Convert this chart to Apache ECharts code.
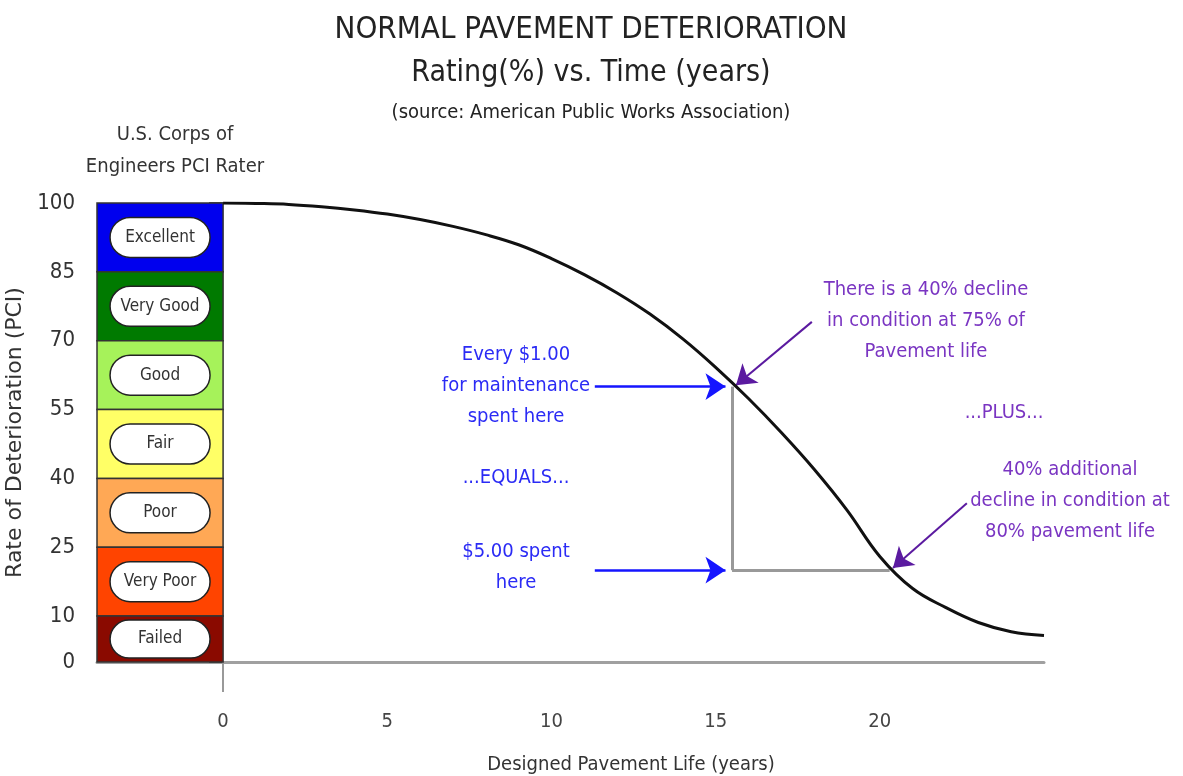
<!DOCTYPE html>
<html>
<head>
<meta charset="utf-8">
<script src="https://cdn.jsdelivr.net/npm/echarts@6/dist/echarts.min.js"></script>
<style>
html,body{margin:0;padding:0;background:#fff;}
#c{width:1183px;height:776px;}
</style>
</head>
<body>
<div id="c"></div>
<script>
// ---- data ----
const years = [0,1,2,3,4,5,6,7,8,9,10,11,12,13,14,15,16,17,18,19,20,21,22,23,24,25];
const pci   = [100,99.9,99.7,99.2,98.5,97.6,96.4,94.9,93.1,90.9,87.9,84.4,80.4,75.8,70.4,64.2,57.4,50.0,42.0,33.1,23.0,16.0,11.9,8.6,6.6,5.8];
const bandNames = ['Excellent','Very Good','Good','Fair','Poor','Very Poor','Failed'];
const bandLow   = [85,70,55,40,25,10,0];
const bandHigh  = [100,85,70,55,40,25,10];
const bandColors = ['#0000ee','#007a00','#a6f25a','#ffff66','#ffa855','#ff4400','#8a0a00'];
const yTicks = [0,10,25,40,55,70,85,100];
const xTicks = [0,5,10,15,20];
// maintenance points (year, rating)
const pointA = [15.5, 60];
const pointB = [20.3, 20];

const FONT = '"DejaVu Sans Condensed","Liberation Sans",sans-serif';
const FONT_WIDE = '"DejaVu Sans","Liberation Sans",sans-serif';
const chart = echarts.init(document.getElementById('c'), null, {renderer:'canvas'});
const XMIN = -3.84;

const blue = '#2b2bf5', purple = '#7a35c2', purpleArrow = '#5b1aa0';

function txt(x, y, lines, size, color, lh, fam){
  return lines.map((s,i)=>({type:'text', x:x, y:y+i*lh, silent:true, style:{text:s, x:0, y:0, fill:color, font:size+'px '+(fam||FONT), textAlign:'center', textVerticalAlign:'middle'}}));
}

const graphics = [].concat(
  txt(591, 30, ['NORMAL PAVEMENT DETERIORATION'], 31, '#222', 0),
  txt(591, 73, ['Rating(%) vs. Time (years)'], 30, '#222', 0),
  txt(591, 113, ['(source: American Public Works Association)'], 20, '#222', 0),
  txt(175, 135, ['U.S. Corps of','Engineers PCI Rater'], 20, '#333', 32),
  txt(631, 765, ['Designed Pavement Life (years)'], 20, '#333', 0),
  txt(516, 355, ['Every $1.00','for maintenance','spent here'], 20, blue, 31),
  txt(516, 478, ['...EQUALS...'], 20, blue, 0),
  txt(516, 552, ['$5.00 spent','here'], 20, blue, 31),
  txt(926, 290, ['There is a 40% decline','in condition at 75% of','Pavement life'], 20, purple, 31),
  txt(1004, 413, ['...PLUS...'], 20, purple, 0),
  txt(1070, 470, ['40% additional','decline in condition at','80% pavement life'], 20, purple, 31)
);

function arrowLine(from, to, color, width, size){
  return [{coord:from, symbol:'none'}, {coord:to, symbol:'arrow', symbolSize:size, lineStyle:{color:color,width:width,type:'solid'}}];
}

const option = {
  animation:false,
  backgroundColor:'#fff',
  grid:{left:97, right:139, top:203, bottom:114, containLabel:false, outerBoundsMode:'none'},
  xAxis:{
    type:'value', min:XMIN, max:25,
    axisLine:{show:true, onZero:false, lineStyle:{color:'#a0a0a0', width:3}},
    axisTick:{show:true, customValues:[0], length:30, lineStyle:{color:'#999', width:2}},
    axisLabel:{customValues:xTicks, margin:50, color:'#444', fontSize:20, fontFamily:FONT},
    splitLine:{show:false}
  },
  yAxis:{
    type:'value', min:0, max:100,
    name:'Rate of Deterioration (PCI)', nameLocation:'middle', nameGap:63, nameRotate:90,
    nameTextStyle:{color:'#333', fontSize:22, fontFamily:FONT_WIDE},
    axisLine:{show:false},
    axisTick:{show:true, customValues:yTicks, length:14, lineStyle:{color:'#555', width:2}},
    axisLabel:{customValues:yTicks, margin:22, color:'#333', fontSize:22, fontFamily:FONT},
    splitLine:{show:false}
  },
  graphic: graphics,
  series:[
    {
      type:'custom', name:'bands', z:3,
      data: bandNames.map((n,i)=>[bandLow[i], bandHigh[i], i]),
      renderItem:function(params, api){
        const lo = api.value(0), hi = api.value(1), i = api.value(2);
        const p1 = api.coord([XMIN, hi]);
        const p2 = api.coord([0, lo]);
        const cx = (p1[0]+p2[0])/2, cy = (p1[1]+p2[1])/2;
        const pw = 100, ph = Math.min(40, (p2[1]-p1[1])-8);
        return {type:'group', children:[
          {type:'rect', shape:{x:p1[0], y:p1[1], width:p2[0]-p1[0], height:p2[1]-p1[1]},
           style:{fill:bandColors[i], stroke:'#333', lineWidth:1.5}},
          {type:'rect', shape:{x:cx-pw/2, y:cy-ph/2, width:pw, height:ph, r:ph/2},
           style:{fill:'#fff', stroke:'#222', lineWidth:1.5}},
          {type:'text', style:{x:cx, y:cy, text:bandNames[i], fill:'#333', font:'17px '+FONT, textAlign:'center', textVerticalAlign:'middle'}}
        ]};
      }
    },
    {
      type:'line', name:'PCI', z:5,
      data: years.map((y,i)=>[y, pci[i]]),
      smooth:0.4, showSymbol:false,
      lineStyle:{color:'#111', width:3},
      markLine:{
        silent:true, animation:false, label:{show:false}, symbol:['none','none'],
        lineStyle:{color:'#999', width:3, type:'solid'},
        data:[
          [{coord:pointA}, {coord:[pointA[0], pointB[1]]}],
          [{coord:[pointA[0], pointB[1]]}, {coord:pointB}]
        ]
      }
    },
    {
      type:'line', name:'arrows', z:6, data:[],
      markLine:{
        silent:true, animation:false, label:{show:false},
        data:[
          arrowLine([11.32, pointA[1]], [15.3, pointA[1]], '#1515ff', 2.5, 20),
          arrowLine([11.32, pointB[1]], [15.3, pointB[1]], '#1515ff', 2.5, 20),
          arrowLine([17.93, 74.1], [15.62, 60.3], purpleArrow, 2, 19),
          arrowLine([22.65, 34.6], [20.4, 20.5], purpleArrow, 2, 19)
        ]
      }
    }
  ]
};
chart.setOption(option);
</script>
</body>
</html>
